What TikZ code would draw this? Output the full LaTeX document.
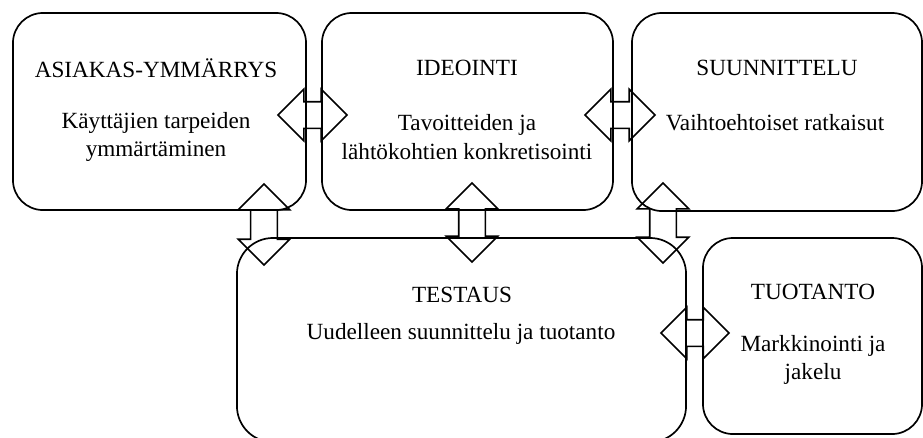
\documentclass[tikz,border=0pt]{standalone}
\usepackage{fontspec}
\setmainfont{Liberation Serif}
\usetikzlibrary{shapes.arrows}

\tikzset{
  box/.style={draw, line width=1.2pt, rounded corners=0.75cm, inner sep=0pt},
  dblarrow/.style={draw, line width=1.1pt, double arrow, double arrow head extend=0.3125cm,
    double arrow tip angle=90, inner xsep=0pt, inner ysep=0.3125cm, minimum width=0pt},
  title/.style={font=\fontsize{16.5}{20}\selectfont},
  body/.style={font=\fontsize{16.5}{20}\selectfont, align=center}
}

\begin{document}
\begin{tikzpicture}[x=0.025cm, y=-0.025cm]

\useasboundingbox (0,0) rectangle (923,437);

% boxes
\node[box, minimum width=7.325cm, minimum height=4.925cm] (asiakas) at (159.5,111.5) {};
\node[box, minimum width=7.275cm, minimum height=4.925cm] (ideointi) at (467.5,111.5) {};
\node[box, minimum width=7.25cm, minimum height=4.95cm] (suunnittelu) at (777,112) {};
\node[box, rounded corners=0.9cm, minimum width=11.225cm, minimum height=5.1cm] (testaus) at (461.5,340) {};
\node[box, minimum width=5.475cm, minimum height=4.9cm] (tuotanto) at (812.5,336) {};

% texts
\node[title] (t1) at (156,68) {ASIAKAS-YMMÄRRYS};
\node[body] (b1) at (156,137) {Käyttäjien tarpeiden\\ymmärtäminen};
\node[title] (t2) at (467,68) {IDEOINTI};
\node[body] (b2) at (467,137) {Tavoitteiden ja\\lähtökohtien konkretisointi};
\node[title] (t3) at (777,68) {SUUNNITTELU};
\node[body] (b3) at (775,123) {Vaihtoehtoiset ratkaisut};
\node[title] (t4) at (462,295) {TESTAUS};
\node[body] (b4) at (461,334) {Uudelleen suunnittelu ja tuotanto};
\node[title] (t5) at (813,292) {TUOTANTO};
\node[body] (b5) at (813,360) {Markkinointi ja\\jakelu};

% double arrows
\node[dblarrow, minimum height=1.725cm] (a1) at (312.5,115) {};
\node[dblarrow, minimum height=1.75cm] (a2) at (620,115) {};
\node[dblarrow, minimum height=1.7cm] (a3) at (695,333) {};
\node[dblarrow, rotate=90, minimum height=2.025cm] (v1) at (264,224.5) {};
\node[dblarrow, rotate=90, minimum height=1.975cm] (v2) at (472,222.5) {};
\node[dblarrow, rotate=90, minimum height=2cm] (v3) at (663,223) {};

\end{tikzpicture}
\end{document}
